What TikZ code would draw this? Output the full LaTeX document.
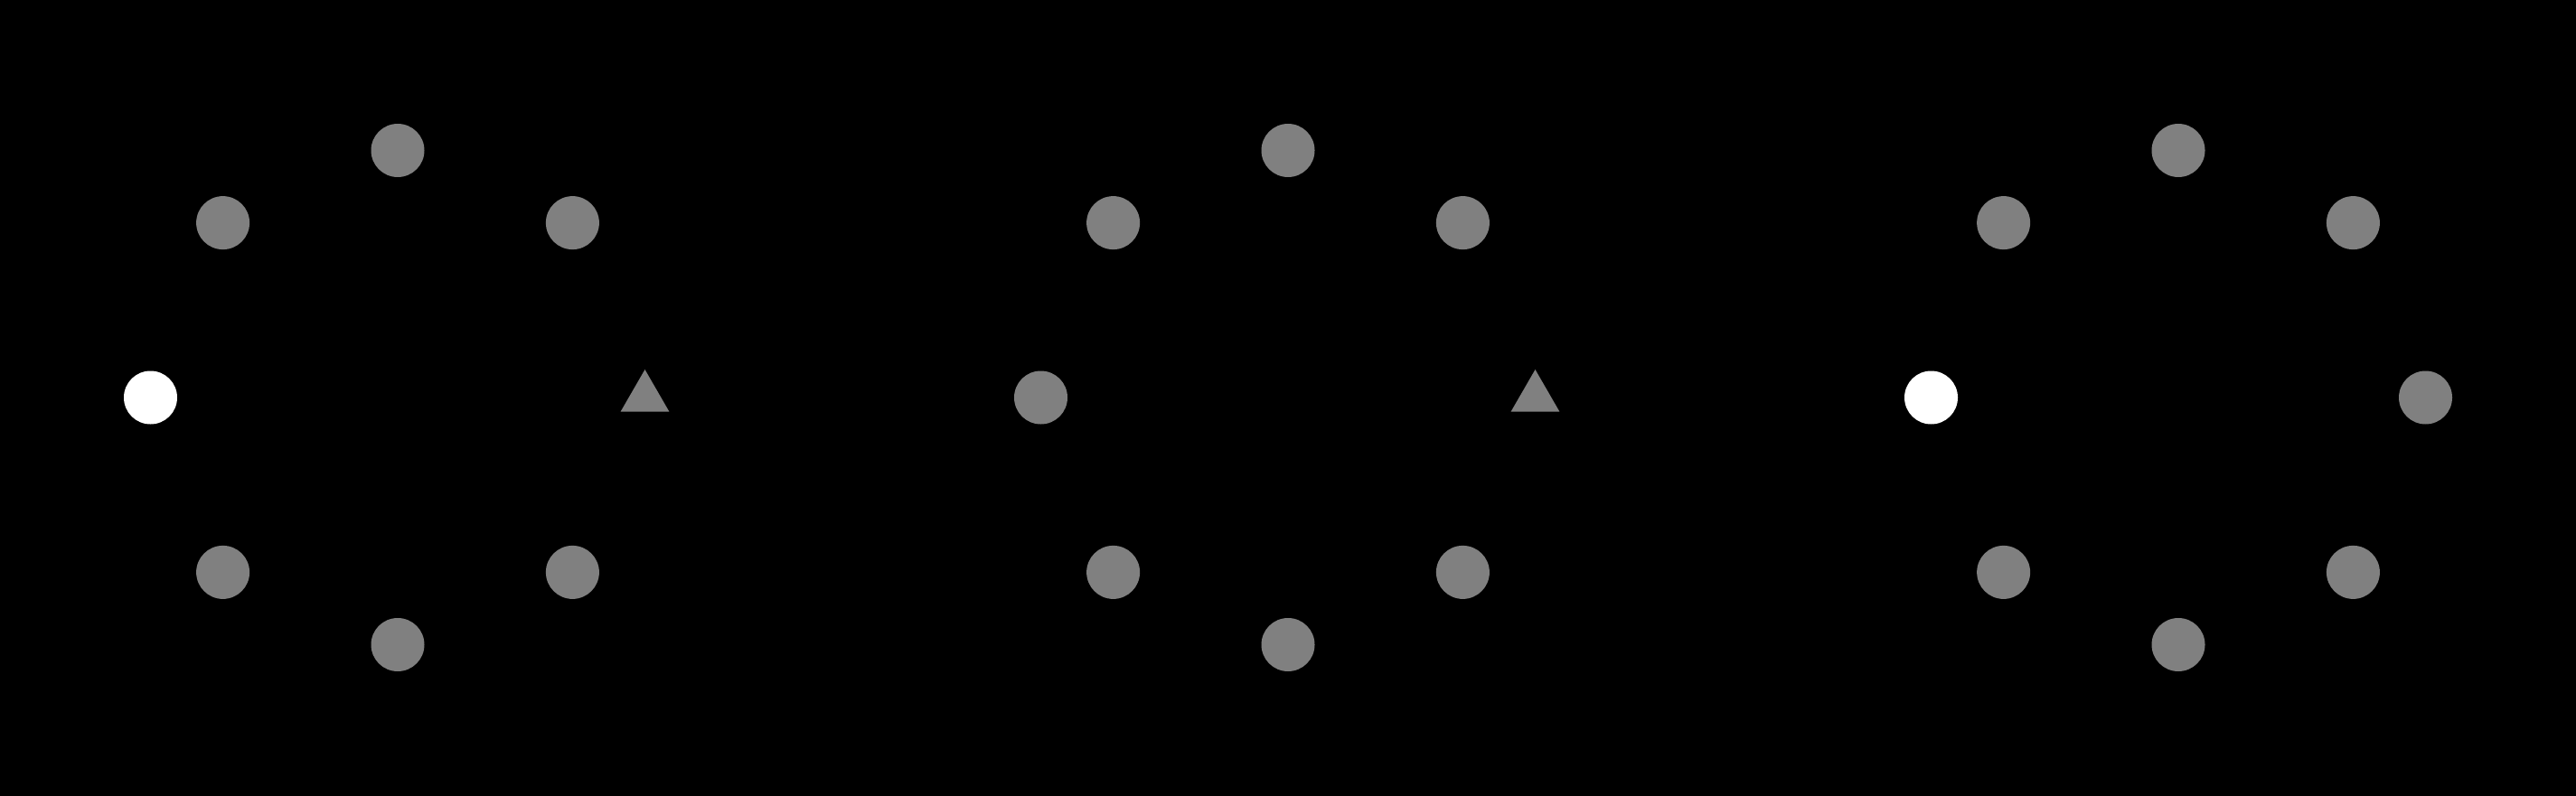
\documentclass[tikz,border=0pt]{standalone}
\usetikzlibrary{shapes.geometric}

\begin{document}
\begin{tikzpicture}[
  dot/.style={circle, fill=gray, minimum size=0.59cm, inner sep=0pt},
  start/.style={dot, fill=white},
  goal/.style={regular polygon, regular polygon sides=3, fill=gray, minimum size=0.62cm, inner sep=0pt}]
\useasboundingbox (0,0) rectangle (28.5,8.8);
\fill[black] (-0.2,-0.2) rectangle (28.7,9.0);
% the six grey dots that every ring shares
\foreach \g/\cx in {a/4.40, b/14.25, c/24.10} {
  \foreach \ang in {45,90,135,225,270,315}
    \node[dot] (\g-\ang) at ([shift={(\cx,4.4)}]\ang:2.735) {};
}
% left and right ends of each ring
\node[start] (a-180) at (1.665,4.4) {};
\node[goal] (a-0) at (7.135,4.4) {};
\node[dot] (b-180) at (11.515,4.4) {};
\node[goal] (b-0) at (16.985,4.4) {};
\node[start] (c-180) at (21.365,4.4) {};
\node[dot] (c-0) at (26.835,4.4) {};
\end{tikzpicture}
\end{document}
